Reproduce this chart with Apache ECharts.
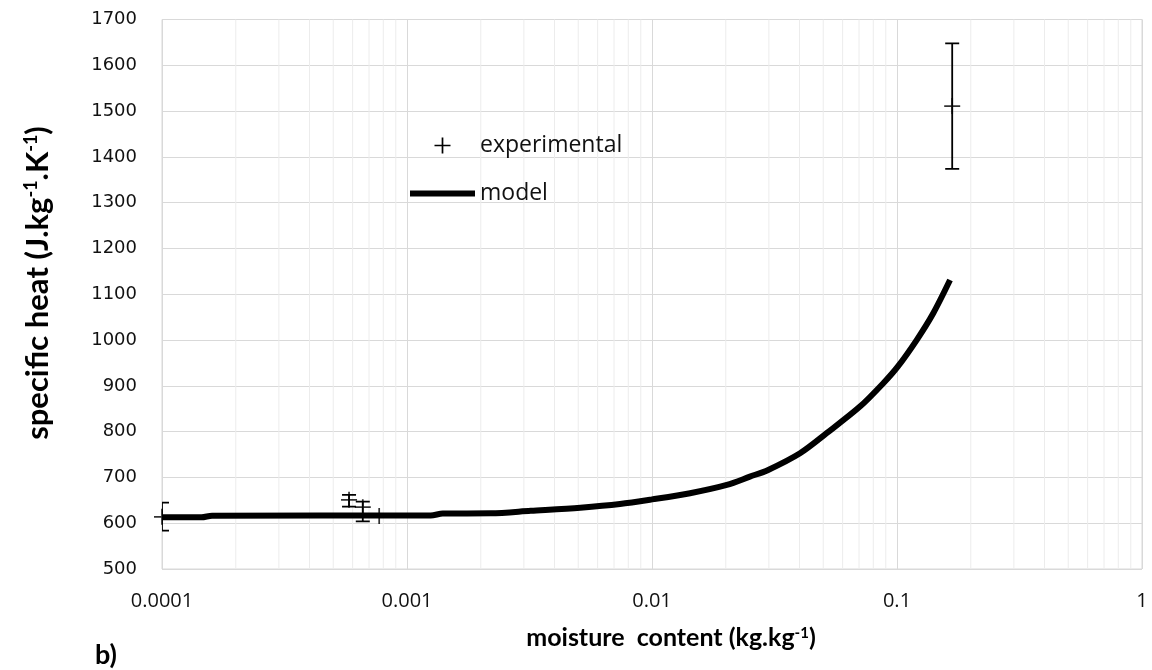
<!DOCTYPE html>
<html>
<head>
<meta charset="utf-8">
<script src="https://cdn.jsdelivr.net/npm/echarts@6/dist/echarts.min.js"></script>
<style>
  html, body { margin: 0; padding: 0; background: #fff; }
  #chart { width: 1152px; height: 670px; }
</style>
</head>
<body>
<div id="chart"></div>
<script>
// model curve (moisture content, specific heat)
var modelX = [0.0001, 0.000145, 0.00016, 0.00125, 0.0014, 0.0022, 0.0032, 0.0051, 0.0074, 0.01,
              0.0143, 0.0202, 0.0251, 0.0298, 0.0402, 0.0516, 0.0706, 0.0879, 0.1007, 0.1203, 0.1406, 0.1646];
var modelY = [613, 613, 616.5, 617, 621, 621.5, 627, 634, 642, 652,
              665.5, 683.6, 701.7, 716.4, 752.8, 796.5, 854.6, 905.7, 941.9, 1000, 1058.5, 1131];

// experimental points with error bar limits
var expX    = [0.0001, 0.00058, 0.00066, 0.00077, 0.168];
var expY    = [614, 651, 635, 616, 1511];
var expLow  = [584, 636, 604, 616, 1374];
var expHigh = [645, 662, 647, 616, 1648];

var yTicks = [500, 1700, 100]; // min, max, step
var xDecades = [0.0001, 0.001, 0.01, 0.1, 1];

// minor log gridlines 2..9 x each decade
var minorX = [];
for (var d = 0; d < xDecades.length - 1; d++) {
  for (var k = 2; k <= 9; k++) minorX.push([+(xDecades[d] * k).toPrecision(2), yTicks[0]]);
}

var plusPath = 'path://M6.25,0h1.5v14h-1.5zM0,6.25h14v1.5h-14z';

var chart = echarts.init(document.getElementById('chart'));

var option = {
  animation: false,
  grid: { left: 162, right: 10, top: 19.5, bottom: 101, show: true, borderColor: '#d9d9d9', borderWidth: 1 },
  legend: {
    orient: 'vertical',
    left: 410, top: 134, padding: 0,
    itemWidth: 65, itemHeight: 16, itemGap: 25,
    textStyle: { fontFamily: 'Open Sans', fontSize: 23, color: '#111' },
    data: [
      { name: 'experimental', icon: plusPath },
      { name: 'model', icon: 'path://M0,0H65V6H0Z' }
    ]
  },
  xAxis: {
    type: 'log', logBase: 10, min: xDecades[0], max: xDecades[xDecades.length - 1],
    axisLine: { show: false }, axisTick: { show: false },
    splitLine: { show: true, lineStyle: { color: '#d9d9d9' } },
    axisLabel: {
      margin: 22, fontFamily: 'Open Sans', fontSize: 20, color: '#111',
      formatter: function (v) { return String(+v.toPrecision(1)); }
    }
  },
  yAxis: {
    type: 'value', min: yTicks[0], max: yTicks[1], interval: yTicks[2],
    axisLine: { show: false }, axisTick: { show: false },
    splitLine: { show: true, lineStyle: { color: '#d9d9d9' } },
    axisLabel: {
      margin: 25, fontFamily: 'DejaVu Sans', fontSize: 18, color: '#111',
      formatter: function (v) { return String(v); }
    }
  },
  graphic: [
    {
      type: 'text', x: 671, y: 638,
      style: {
        text: '{b|moisture  content (kg.kg}{s|-1}{b|)}',
        textAlign: 'center', textVerticalAlign: 'middle',
        rich: {
          b: { fontFamily: 'Lato', fontWeight: 'bold', fontSize: 25, fill: '#000' },
          s: { fontFamily: 'Lato', fontWeight: 'bold', fontSize: 15, fill: '#000', verticalAlign: 'top' }
        }
      }
    },
    {
      type: 'text', x: 38, y: 283, rotation: Math.PI / 2,
      style: {
        text: '{b|specific heat (J.kg}{s|-1}{b|.K}{s|-1}{b|)}',
        textAlign: 'center', textVerticalAlign: 'middle',
        rich: {
          b: { fontFamily: 'Lato', fontWeight: 'bold', fontSize: 31, fill: '#000' },
          s: { fontFamily: 'Lato', fontWeight: 'bold', fontSize: 18, fill: '#000', verticalAlign: 'top' }
        }
      }
    },
    {
      type: 'text', x: 95, y: 655,
      style: { text: 'b)', fontFamily: 'Lato', fontWeight: 'bold', fontSize: 27, fill: '#000', textVerticalAlign: 'middle' }
    }
  ],
  series: [
    {
      name: 'minor', type: 'custom', z: 1, silent: true,
      data: minorX,
      renderItem: function (params, api) {
        var p = api.coord([api.value(0), api.value(1)]);
        var cs = params.coordSys;
        return {
          type: 'line',
          shape: { x1: p[0], y1: cs.y, x2: p[0], y2: cs.y + cs.height },
          style: { stroke: '#ececec', lineWidth: 1 }
        };
      }
    },
    {
      name: 'model', type: 'line', z: 3,
      data: modelX.map(function (x, i) { return [x, modelY[i]]; }),
      showSymbol: false, smooth: 0.3,
      lineStyle: { color: '#000', width: 6 },
      itemStyle: { color: '#000' }
    },
    {
      name: 'experimental', type: 'custom', z: 4, clip: true,
      data: expX.map(function (x, i) { return [x, expLow[i], expHigh[i]]; }),
      renderItem: function (params, api) {
        var x = api.value(0);
        var lo = api.coord([x, api.value(1)]);
        var hi = api.coord([x, api.value(2)]);
        if (hi[1] === lo[1]) return null;
        var cs = params.coordSys;
        // caps are cut at the plot border, as in the source chart
        var capL = Math.max(lo[0] - 7, cs.x);
        var capR = Math.min(lo[0] + 7, cs.x + cs.width);
        var st = { stroke: '#000', lineWidth: 1.8 };
        return {
          type: 'group',
          children: [
            { type: 'line', shape: { x1: lo[0], y1: lo[1], x2: hi[0], y2: hi[1] }, style: st },
            { type: 'line', shape: { x1: capL, y1: lo[1], x2: capR, y2: lo[1] }, style: st },
            { type: 'line', shape: { x1: capL, y1: hi[1], x2: capR, y2: hi[1] }, style: st }
          ]
        };
      },
      itemStyle: { color: '#000' }
    },
    {
      name: 'experimental', type: 'scatter', z: 5, clip: false,
      data: expX.map(function (x, i) { return [x, expY[i]]; }),
      symbol: plusPath, symbolSize: 16,
      itemStyle: { color: '#000' }
    }
  ]
};

chart.setOption(option);
</script>
</body>
</html>
